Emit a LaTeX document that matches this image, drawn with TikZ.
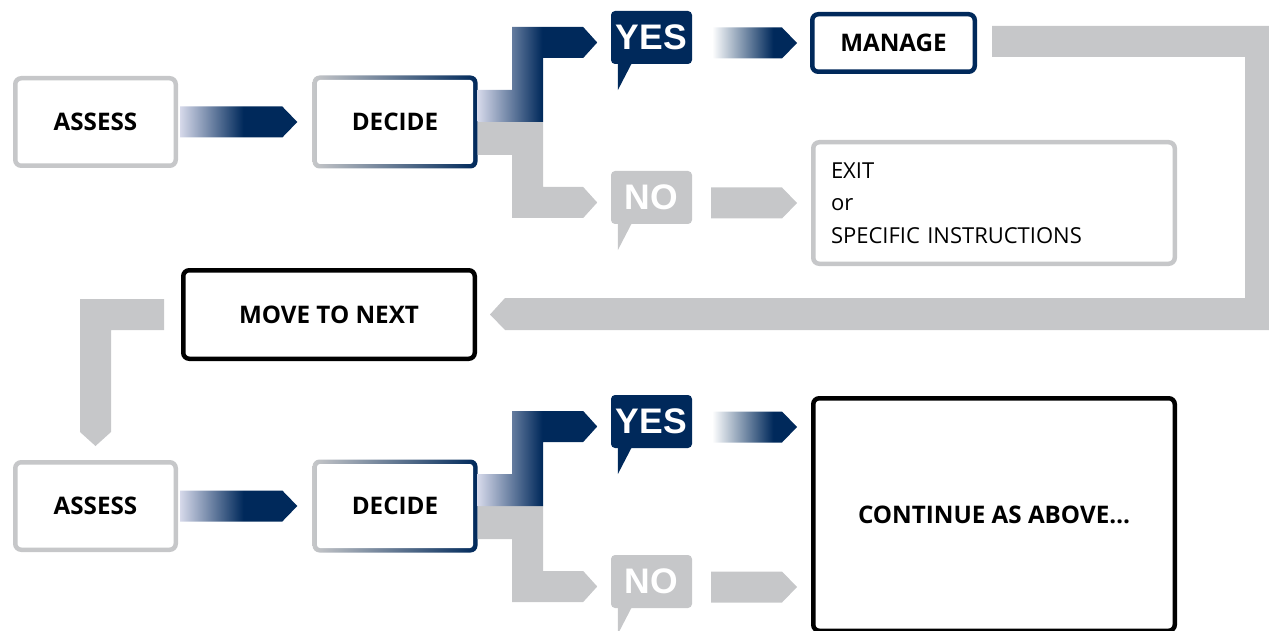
\documentclass[tikz,border=0pt]{standalone}
\usepackage{fontspec}
\setmainfont{Open Sans}
\newfontfamily\bubblefont{Liberation Sans}
\definecolor{navy}{HTML}{00295B}
\definecolor{boxgray}{HTML}{C6C7C9}
\definecolor{fadelight}{HTML}{D6D9EA}
\pgfdeclarehorizontalshading{navyfade}{100bp}{color(0bp)=(fadelight); color(25bp)=(fadelight); color(52bp)=(navy); color(100bp)=(navy)}
\pgfdeclarehorizontalshading{whitefade}{100bp}{color(0bp)=(white); color(25bp)=(white); color(61bp)=(navy); color(100bp)=(navy)}
\newcommand\flowfont{\bfseries\fontsize{24.2}{29}\selectfont}
\newcommand\exitfont{\fontsize{22}{32.5}\selectfont}
\newcommand\saysfont{\bubblefont\bfseries\fontsize{35.5}{40}\selectfont}
% block arrow from #2 (tail middle) to #3 (tip)
\newcommand\blockarrow[3]{\path [#1] ([yshift=15.5pt]#2) -- ([shift={(-15pt,15.5pt)}]#3) -- (#3) -- ([shift={(-15pt,-15.5pt)}]#3) -- ([yshift=-15.5pt]#2) -- cycle;}
\tikzset{
  flowbox/.style={draw, line width=4.5pt, rounded corners=6pt, fill=white, inner sep=0pt, font=\flowfont},
  decidebox/.style={rounded corners=7pt, left color=boxgray, right color=navy, inner sep=0pt,
    minimum width=165pt, minimum height=93pt, font=\flowfont,
    path picture={\fill [white, rounded corners=3pt] ([shift={(4.5pt,-4.5pt)}]path picture bounding box.north west) rectangle ([shift={(-4.5pt,4.5pt)}]path picture bounding box.south east);}},
  saybubble/.style={rounded corners=4pt, inner sep=0pt, minimum width=81pt, minimum height=53pt, text=white, font=\saysfont},
  fadearrow/.style={shade, shading=navyfade},
  whitearrow/.style={shade, shading=whitefade},
  grayarrow/.style={fill=boxgray}
}
\begin{document}
\begin{tikzpicture}[x=1pt, y=-1pt]
        \useasboundingbox (0,0) rectangle (1269,631);
        % first round
        \node [flowbox, draw=boxgray, minimum width=160.5pt, minimum height=87.5pt] (assessA) at (95.5,122) {ASSESS};
        \node [decidebox] (decideA) at (395,122) {DECIDE};
        \node [saybubble, fill=navy] (yesA) at (651.5,37.5) {YES};
        \fill [navy] ([xshift=7pt,yshift=1pt]yesA.south west) -- ++(0,27) -- ([xshift=21pt,yshift=1pt]yesA.south west) -- cycle;
        \node [saybubble, fill=boxgray] (noA) at (651.5,197.5) {NO};
        \fill [boxgray] ([xshift=7pt,yshift=1pt]noA.south west) -- ++(0,27) -- ([xshift=21pt,yshift=1pt]noA.south west) -- cycle;
        \node [flowbox, draw=navy, minimum width=162.5pt, minimum height=57.5pt] (manage) at (893.5,43) {MANAGE};
        \node [flowbox, draw=boxgray, minimum width=361.5pt, minimum height=121.5pt, text width=326pt, inner xsep=17.75pt, align=left, font=\exitfont] (exit) at (994,203) {EXIT\\or\\SPECIFIC INSTRUCTIONS};
        \node [flowbox, draw=black, minimum width=291.5pt, minimum height=88.5pt] (movenext) at (329,314.5) {MOVE TO NEXT};
        \coordinate (asA) at ([xshift=2pt]assessA.east);
        \coordinate (deA) at ([xshift=-15pt]decideA.west);
        \blockarrow{fadearrow}{asA}{deA}
        \fill [boxgray] (decideA.east) -- ++(65.5,0) -- ++(0,65) -- ++(40,0) -- ++(14,15.5) -- ++(-14,15.5) -- ++(-71,0) -- ++(0,-63) -- ++(-34.5,0) -- cycle;
        \path [fadearrow] (decideA.east) -- ++(0,-32) -- ++(34.5,0) -- ++(0,-63) -- ++(71,0) -- ++(14,15.5) -- ++(-14,15.5) -- ++(-40,0) -- ++(0,64) -- cycle;
        \coordinate (ymA) at (712,43);
        \coordinate (maA) at ([xshift=-13pt]manage.west);
        \blockarrow{whitearrow}{ymA}{maA}
        \coordinate (neA) at (711,203);
        \coordinate (exA) at ([xshift=-14pt]exit.west);
        \blockarrow{grayarrow}{neA}{exA}
        % back to the next round
        \fill [boxgray] ([xshift=15pt,yshift=17pt]manage.east) -| (1269,330) -- (505,330) -- ([xshift=13pt]movenext.east) -- (505,298) -| (1245,57) -- ([xshift=15pt,yshift=-14pt]manage.east) -- cycle;
        % second round
        \node [flowbox, draw=boxgray, minimum width=160.5pt, minimum height=87.5pt] (assessB) at (95.5,506) {ASSESS};
        \node [decidebox] (decideB) at (395,506) {DECIDE};
        \node [saybubble, fill=navy] (yesB) at (651.5,421.5) {YES};
        \fill [navy] ([xshift=7pt,yshift=1pt]yesB.south west) -- ++(0,27) -- ([xshift=21pt,yshift=1pt]yesB.south west) -- cycle;
        \node [saybubble, fill=boxgray] (noB) at (651.5,581.5) {NO};
        \fill [boxgray] ([xshift=7pt,yshift=1pt]noB.south west) -- ++(0,27) -- ([xshift=21pt,yshift=1pt]noB.south west) -- cycle;
        \node [flowbox, draw=black, minimum width=361.5pt, minimum height=232.5pt] (goon) at (994,514.5) {CONTINUE AS ABOVE…};
        \fill [boxgray] ([xshift=-17pt,yshift=15.5pt]movenext.west) -| (80,432) -- ([yshift=14pt]assessB.north) -- (111,432) |- ([xshift=-17pt,yshift=-15.5pt]movenext.west) -- cycle;
        \coordinate (asB) at ([xshift=2pt]assessB.east);
        \coordinate (deB) at ([xshift=-15pt]decideB.west);
        \blockarrow{fadearrow}{asB}{deB}
        \fill [boxgray] (decideB.east) -- ++(65.5,0) -- ++(0,65) -- ++(40,0) -- ++(14,15.5) -- ++(-14,15.5) -- ++(-71,0) -- ++(0,-63) -- ++(-34.5,0) -- cycle;
        \path [fadearrow] (decideB.east) -- ++(0,-32) -- ++(34.5,0) -- ++(0,-63) -- ++(71,0) -- ++(14,15.5) -- ++(-14,15.5) -- ++(-40,0) -- ++(0,64) -- cycle;
        \coordinate (ymB) at (712,427);
        \coordinate (goY) at ([xshift=-14pt]goon.west |- ymB);
        \blockarrow{whitearrow}{ymB}{goY}
        \coordinate (neB) at (711,587);
        \coordinate (goN) at ([xshift=-14pt]goon.west |- neB);
        \blockarrow{grayarrow}{neB}{goN}
\end{tikzpicture}
\end{document}
